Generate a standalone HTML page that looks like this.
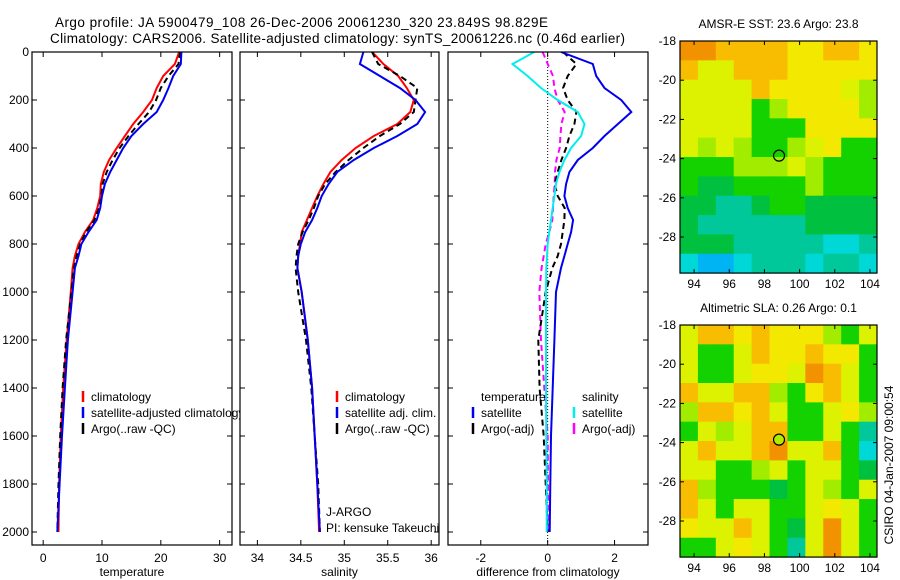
<!DOCTYPE html>
<html><head><meta charset="utf-8"><style>
html,body{margin:0;padding:0;background:#fff;}
svg{display:block;font-family:"Liberation Sans",sans-serif;}
</style></head><body>
<svg id="fig" width="900" height="580" viewBox="0 0 900 580">
<rect width="900" height="580" fill="#fff"/>
<text x="55" y="27" font-size="13.5" textLength="493">Argo profile: JA 5900479_108 26-Dec-2006 20061230_320 23.849S 98.829E</text>
<text x="50" y="43" font-size="13.5" textLength="575">Climatology: CARS2006. Satellite-adjusted climatology: synTS_20061226.nc (0.46d earlier)</text>
<g id="panels"></g>
<text transform="translate(893,465) rotate(-90)" text-anchor="middle" font-size="12">CSIRO 04-Jan-2007 09:00:54</text>
</svg>
<script>
// ---------- data ----------
const depths = [0,50,100,150,200,250,300,350,400,450,500,550,600,650,700,750,800,850,900,1000,1200,1400,1600,1800,2000];
const tempClim = [23.1,22.4,20.4,19.3,18.5,17.0,15.3,13.9,12.5,11.2,10.3,9.8,9.7,9.2,8.5,7.1,6.0,5.4,5.0,4.7,4.0,3.4,3.0,2.7,2.6];
const tempSat  = [23.5,23.4,22.1,21.3,20.4,19.3,17.0,15.0,13.6,12.5,11.4,10.5,10.0,9.7,9.1,7.7,6.5,6.0,5.4,5.0,4.2,3.7,3.2,2.8,2.4];
const tempArgo = [23.3,23.0,21.3,20.0,19.2,18.0,16.2,14.5,13.0,11.8,10.8,10.1,9.9,9.5,8.7,7.3,6.3,5.7,5.2,4.8,3.9,3.3,2.9,2.6,2.4];
const salClim = [35.32,35.45,35.62,35.72,35.80,35.76,35.61,35.34,35.13,34.97,34.84,34.76,34.69,34.63,34.57,34.51,34.49,34.47,34.46,34.51,34.58,34.63,34.66,34.69,34.71];
const salSat  = [35.22,35.18,35.41,35.64,35.82,35.93,35.84,35.61,35.34,35.11,34.92,34.82,34.74,34.69,34.63,34.55,34.50,34.47,34.46,34.51,34.58,34.63,34.66,34.69,34.72];
const salArgo = [35.32,35.39,35.64,35.84,35.82,35.80,35.64,35.41,35.22,35.05,34.90,34.78,34.70,34.65,34.59,34.52,34.47,34.45,34.44,34.47,34.56,34.62,34.66,34.70,34.72];
const diffTempSat  = [0.4,1.35,1.45,1.7,2.2,2.5,2.1,1.7,1.35,0.9,0.65,0.55,0.5,0.6,0.76,0.7,0.6,0.5,0.4,0.25,0.2,0.15,0.1,0.08,0.06];
const diffTempArgo = [0.46,0.86,0.6,0.46,0.6,0.86,0.8,0.65,0.55,0.41,0.3,0.21,0.3,0.51,0.5,0.45,0.4,0.3,0.14,-0.06,-0.28,-0.24,-0.12,-0.06,0.0];
const diffSalSat   = [-0.4,-1.05,-0.6,-0.2,0.3,0.9,1.1,1.0,0.7,0.5,0.35,0.25,0.2,0.15,0.1,0.05,0.0,-0.02,-0.04,-0.05,-0.05,-0.05,-0.04,-0.03,-0.03];
const diffSalArgo  = [-0.15,0.0,0.16,0.2,0.3,0.51,0.41,0.38,0.36,0.26,0.22,0.21,0.18,0.16,0.14,0.05,-0.06,-0.12,-0.18,-0.25,-0.2,-0.1,0.0,0.01,0.02];
const depthTicks = [0,200,400,600,800,1000,1200,1400,1600,1800,2000];
const tempTicks = [0,10,20,30];
const salTicks = [34,34.5,35,35.5,36];
const salTickLabels = ["34","34.5","35","35.5","36"];
const diffTicks = [-2,0,2];
const lonTicks = [94,96,98,100,102,104];
const latTicks = [18,20,22,24,26,28];
const sstGrid = [
"OOooooYYooY","oyyoooYYYYY","yyyyoYYYYyL","yyyyGLYYYYL","yyyyGGGYYYY","yLyLGGLyYGG",
"GGGLLLyLGGG","GggGGGGLGGG","ggTTgGGgggg","gTTTTTTgggg","gggTTTTTCCT","CBBCTTTCTTC"];
const slaGrid = [
"yooYoYYYLGy","yGGyoYYoYYG","yGGyYYyOoyG","oyyooLGYoyG","LooYoyGGyYL","GyLyooGGyGT",
"yoyyoOyyoGC","yyGGLyGyyGg","oLGGGgGyLGy","oyGyyGGyYyG","YyyoyGgyOyG","GGyYyGTyOyG"];
const palette = {O:"#f29200",o:"#f8bc00",Y:"#f2e800",y:"#dcf200",L:"#a2ec00",G:"#14d200",g:"#00c040",T:"#00c89a",C:"#00d8d8",B:"#00b4f4"};

// ---------- helpers ----------
const NS="http://www.w3.org/2000/svg";
const root=document.getElementById('panels');
function mk(tag,attrs,parent){const e=document.createElementNS(NS,tag);for(const k in attrs)e.setAttribute(k,attrs[k]);(parent||root).appendChild(e);return e;}
const Y0=52, Y1=545;
function yDepth(d){return Y0+d*0.24;}

function profilePanel(cfg){
  const g=mk('g',{});
  
  
  mk('rect',{x:cfg.x0,y:Y0,width:cfg.x1-cfg.x0,height:Y1-Y0,fill:'#fff'},g);
  const xs=v=>cfg.x0+(v-cfg.lo)/(cfg.hi-cfg.lo)*(cfg.x1-cfg.x0);
  if(cfg.zeroLine){const zl=mk('line',{x1:xs(0),x2:xs(0),y1:Y0,y2:Y1,stroke:'#000','stroke-width':1,'stroke-dasharray':'1,2'},g);
    
    }
  const clip='clip-'+cfg.name;
  const cp=mk('clipPath',{id:clip},g);mk('rect',{x:cfg.x0,y:Y0,width:cfg.x1-cfg.x0,height:Y1-Y0},cp);
  cfg.series.forEach(s=>{
    const pts=s.vals.map((v,i)=>xs(v).toFixed(1)+','+yDepth(depths[i]).toFixed(1)).join(' ');
    const p=mk('polyline',{points:pts,fill:'none',stroke:s.color,'stroke-width':2,'clip-path':'url(#'+clip+')'},g);
    if(s.dash)p.setAttribute('stroke-dasharray',s.dash);
    
    
  });
  mk('rect',{x:cfg.x0,y:Y0,width:cfg.x1-cfg.x0,height:Y1-Y0,fill:'none',stroke:'#000','stroke-width':1.2},g);
  cfg.ticks.forEach((t,i)=>{
    const x=xs(t);
    mk('line',{x1:x,x2:x,y1:Y1,y2:Y1-5,stroke:'#000'},g);
    mk('line',{x1:x,x2:x,y1:Y0,y2:Y0+5,stroke:'#000'},g);
    const tl=mk('text',{x:x,y:Y1+17,'font-size':12,'text-anchor':'middle'},g);
    tl.textContent=cfg.labels[i];
    
    
  });
  depthTicks.forEach(d=>{
    const y=yDepth(d);
    mk('line',{x1:cfg.x0,x2:cfg.x0+5,y1:y,y2:y,stroke:'#000'},g);
    mk('line',{x1:cfg.x1,x2:cfg.x1-5,y1:y,y2:y,stroke:'#000'},g);
    if(cfg.yLabels){const t=mk('text',{x:cfg.x0-3,y:y+4,'font-size':12,'text-anchor':'end'},g);t.textContent=d;
      
      }
  });
  const xt=mk('text',{x:(cfg.x0+cfg.x1)/2,y:576,'font-size':12,'text-anchor':'middle'},g);
  xt.textContent=cfg.title;
  
  
  return g;
}
function legend(g,x,y,items){
  items.forEach((it,i)=>{
    const yy=y+i*16;
    if(it.color){const m=mk('line',{x1:x,x2:x,y1:yy-10,y2:yy+1,stroke:it.color,'stroke-width':2.5},g);
      
      }
    const t=mk('text',{x:x+8,y:yy,'font-size':12},g);t.textContent=it.label;
    
    
  });
}

const p1=profilePanel({name:'temperature-panel',x0:32,x1:232,lo:-1.9,hi:32.1,ticks:tempTicks,labels:tempTicks.map(String),yLabels:true,title:'temperature',
 series:[{vals:tempClim,color:'#f00',name:'temp-climatology-line'},{vals:tempArgo,color:'#000',dash:'6,4',name:'temp-argo-line'},{vals:tempSat,color:'#0000ee',name:'temp-satellite-line'}]});
legend(p1,83,401,[{color:'#f00',label:'climatology'},{color:'#0000ee',label:'satellite-adjusted climatology'},{color:'#000',label:'Argo(..raw -QC)'}]);

const p2=profilePanel({name:'salinity-panel',x0:240,x1:439,lo:33.8,hi:36.09,ticks:salTicks,labels:salTickLabels,title:'salinity',
 series:[{vals:salClim,color:'#f00',name:'sal-climatology-line'},{vals:salArgo,color:'#000',dash:'6,4',name:'sal-argo-line'},{vals:salSat,color:'#0000ee',name:'sal-satellite-line'}]});
legend(p2,337,401,[{color:'#f00',label:'climatology'},{color:'#0000ee',label:'satellite adj. clim.'},{color:'#000',label:'Argo(..raw -QC)'}]);
legend(p2,318,516,[{label:'J-ARGO'},{label:'PI: kensuke Takeuchi'}]);

const p3=profilePanel({name:'difference-panel',x0:448,x1:648,lo:-2.98,hi:3.0,ticks:diffTicks,labels:['-2','0','2'],title:'difference from climatology',zeroLine:true,
 series:[{vals:diffSalArgo,color:'#f0f',dash:'6,4',name:'diff-sal-argo-line'},{vals:diffTempArgo,color:'#000',dash:'6,4',name:'diff-temp-argo-line'},{vals:diffTempSat,color:'#0000ee',name:'diff-temp-satellite-line'},{vals:diffSalSat,color:'#00eeee',name:'diff-sal-satellite-line'}]});
legend(p3,473,401,[{label:'temperature'},{color:'#0000ee',label:'satellite'},{color:'#000',label:'Argo(-adj)'}]);
legend(p3,574,401,[{label:'salinity'},{color:'#00eeee',label:'satellite'},{color:'#f0f',label:'Argo(-adj)'}]);

function mapPanel(cfg){
  const g=mk('g',{});
  
  
  const x0=680,x1=877,lon0=93.2,lon1=104.4;
  const yTop=cfg.y0, pxLat=19.6;
  const xs=l=>x0+(l-lon0)/(lon1-lon0)*(x1-x0);
  const ys=l=>yTop+(l-18)*pxLat;
  const yBot=ys(29.84);
  const rows=cfg.grid.length, cols=cfg.grid[0].length;
  const cw=(x1-x0)/cols, ch=(yBot-yTop)/rows;
  cfg.grid.forEach((row,r)=>{for(let c=0;c<cols;c++){
    mk('rect',{x:(x0+c*cw).toFixed(2),y:(yTop+r*ch).toFixed(2),width:(cw+0.5).toFixed(2),height:(ch+0.5).toFixed(2),fill:palette[row[c]]},g);
  }});
  mk('rect',{x:x0,y:yTop,width:x1-x0,height:yBot-yTop,fill:'none',stroke:'#000','stroke-width':1.2},g);
  lonTicks.forEach(l=>{const x=xs(l);
    mk('line',{x1:x,x2:x,y1:yBot,y2:yBot-4,stroke:'#000'},g);
    mk('line',{x1:x,x2:x,y1:yTop,y2:yTop+4,stroke:'#000'},g);
    const t=mk('text',{x:x,y:yBot+15,'font-size':12,'text-anchor':'middle'},g);t.textContent=l;
    
    });
  latTicks.forEach(l=>{const y=ys(l);
    mk('line',{x1:x0,x2:x0+4,y1:y,y2:y,stroke:'#000'},g);
    mk('line',{x1:x1,x2:x1-4,y1:y,y2:y,stroke:'#000'},g);
    const t=mk('text',{x:x0-4,y:y+4,'font-size':12,'text-anchor':'end'},g);t.textContent='-'+l;
    
    });
  const c=mk('circle',{cx:xs(98.83),cy:ys(23.85),r:5.5,fill:cfg.dot,stroke:'#000','stroke-width':1.2},g);
  
  
  const t=mk('text',{x:(x0+x1)/2,y:yTop-13,'font-size':12,'text-anchor':'middle'},g);t.textContent=cfg.title;
  
  
}
mapPanel({name:'sst-map',y0:41,grid:sstGrid,dot:'none',title:'AMSR-E SST: 23.6 Argo: 23.8'});
mapPanel({name:'sla-map',y0:325,grid:slaGrid,dot:'#b4ec00',title:'Altimetric SLA: 0.26 Argo: 0.1'});
</script>
</body></html>
